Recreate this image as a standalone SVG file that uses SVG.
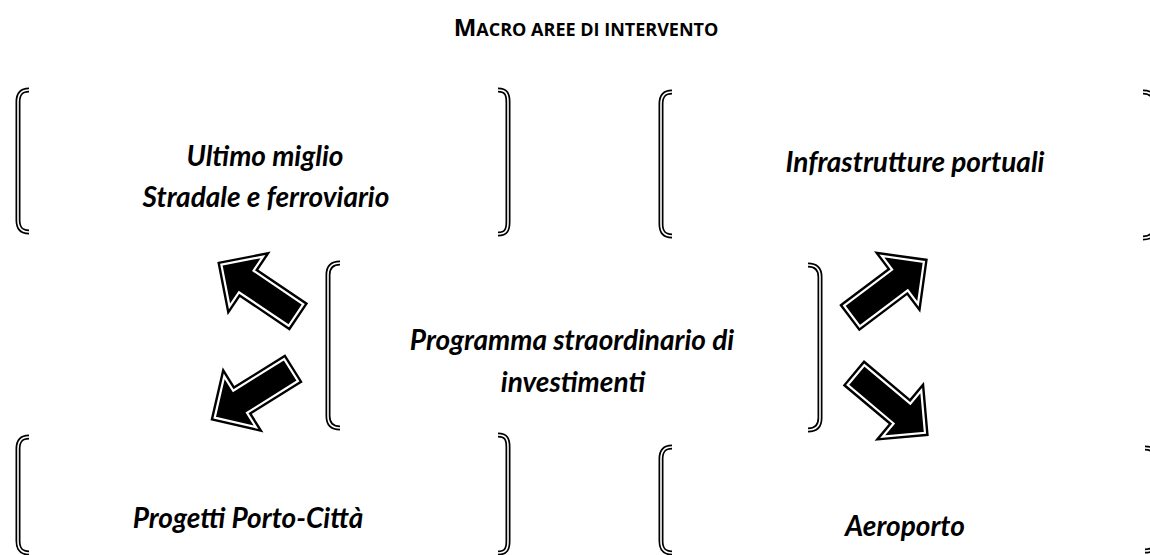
<svg xmlns="http://www.w3.org/2000/svg" width="1150" height="555" viewBox="0 0 1150 555">
<style>
.t{font-family:Lato,"Open Sans","Liberation Sans",sans-serif;font-weight:bold;font-style:italic;font-size:28px;fill:#000;text-anchor:middle}
.title{font-family:"Open Sans",Lato,"Liberation Sans",sans-serif;font-weight:bold;fill:#000;text-anchor:middle}
.bo{fill:none;stroke:#000;stroke-width:5;stroke-linecap:butt}
.bi{fill:none;stroke:#fff;stroke-width:1.6}
.ao{fill:#000;stroke:#000;stroke-width:7;stroke-linejoin:miter}
.ai{fill:#000;stroke:#fff;stroke-width:2.2;stroke-linejoin:miter}
</style>
<defs>
<polygon id="arr" points="0,-13 60,-13 60,-30 90,0 60,30 60,13 0,13"/>
</defs>
<rect width="1150" height="555" fill="#fff"/>
<text class="title" x="586" y="36"><tspan font-size="24">M</tspan><tspan font-size="18">ACRO AREE DI INTERVENTO</tspan></text>

<g id="node-ultimo-miglio">
<path class="bo" d="M29,90 C21,90 18,94 18,102 L18,220 C18,228 21,232 29,232"/>
<path class="bi" d="M29,90 C21,90 18,94 18,102 L18,220 C18,228 21,232 29,232"/>
<path class="bo" d="M498,90 C506,90 508,94 508,102 L508,222 C508,230 506,234 498,234"/>
<path class="bi" d="M498,90 C506,90 508,94 508,102 L508,222 C508,230 506,234 498,234"/>
<text class="t" x="265" y="166">Ultimo miglio</text>
<text class="t" x="266" y="207">Stradale e ferroviario</text>
</g>

<g id="node-infrastrutture">
<path class="bo" d="M672,92 C664,92 661,96 661,104 L661,224 C661,232 664,236 672,236"/>
<path class="bi" d="M672,92 C664,92 661,96 661,104 L661,224 C661,232 664,236 672,236"/>
<path class="bo" d="M1143,92 C1151,92 1155,96 1155,104 L1155,226 C1155,234 1151,238 1143,238"/>
<path class="bi" d="M1143,92 C1151,92 1155,96 1155,104 L1155,226 C1155,234 1151,238 1143,238"/>
<text class="t" x="915" y="172">Infrastrutture portuali</text>
</g>

<g id="node-programma">
<path class="bo" d="M340,263 C332,263 328,267 328,275 L328,416 C328,424 332,428 340,428"/>
<path class="bi" d="M340,263 C332,263 328,267 328,275 L328,416 C328,424 332,428 340,428"/>
<path class="bo" d="M808,265 C816,265 820,269 820,277 L820,418 C820,426 816,430 808,430"/>
<path class="bi" d="M808,265 C816,265 820,269 820,277 L820,418 C820,426 816,430 808,430"/>
<text class="t" x="572" y="350">Programma straordinario di</text>
<text class="t" x="573" y="392">investimenti</text>
</g>

<g id="node-progetti">
<path class="bo" d="M29,437 C21,437 18,441 18,449 L18,541 C18,549 21,553 29,553"/>
<path class="bi" d="M29,437 C21,437 18,441 18,449 L18,541 C18,549 21,553 29,553"/>
<path class="bo" d="M498,435 C506,435 508,439 508,447 L508,541 C508,549 506,553 498,553"/>
<path class="bi" d="M498,435 C506,435 508,439 508,447 L508,541 C508,549 506,553 498,553"/>
<text class="t" x="248" y="528">Progetti Porto-Città</text>
</g>

<g id="node-aeroporto">
<path class="bo" d="M672,447 C664,447 661,451 661,459 L661,541 C661,549 664,553 672,553"/>
<path class="bi" d="M672,447 C664,447 661,451 661,459 L661,541 C661,549 664,553 672,553"/>
<path class="bo" d="M1145,448 C1153,448 1157,452 1157,460 L1157,539 C1157,547 1153,551 1145,551"/>
<path class="bi" d="M1145,448 C1153,448 1157,452 1157,460 L1157,539 C1157,547 1153,551 1145,551"/>
<text class="t" x="905" y="536">Aeroporto</text>
</g>

<g id="connectors">
<g transform="translate(296,315) rotate(-146)"><use href="#arr" class="ao"/><use href="#arr" class="ai"/></g>
<g transform="translate(291,370) rotate(148)"><use href="#arr" class="ao"/><use href="#arr" class="ai"/></g>
<g transform="translate(852,316) rotate(-37)"><use href="#arr" class="ao"/><use href="#arr" class="ai"/></g>
<g transform="translate(856,375) rotate(40)"><use href="#arr" class="ao"/><use href="#arr" class="ai"/></g>
</g>
</svg>
